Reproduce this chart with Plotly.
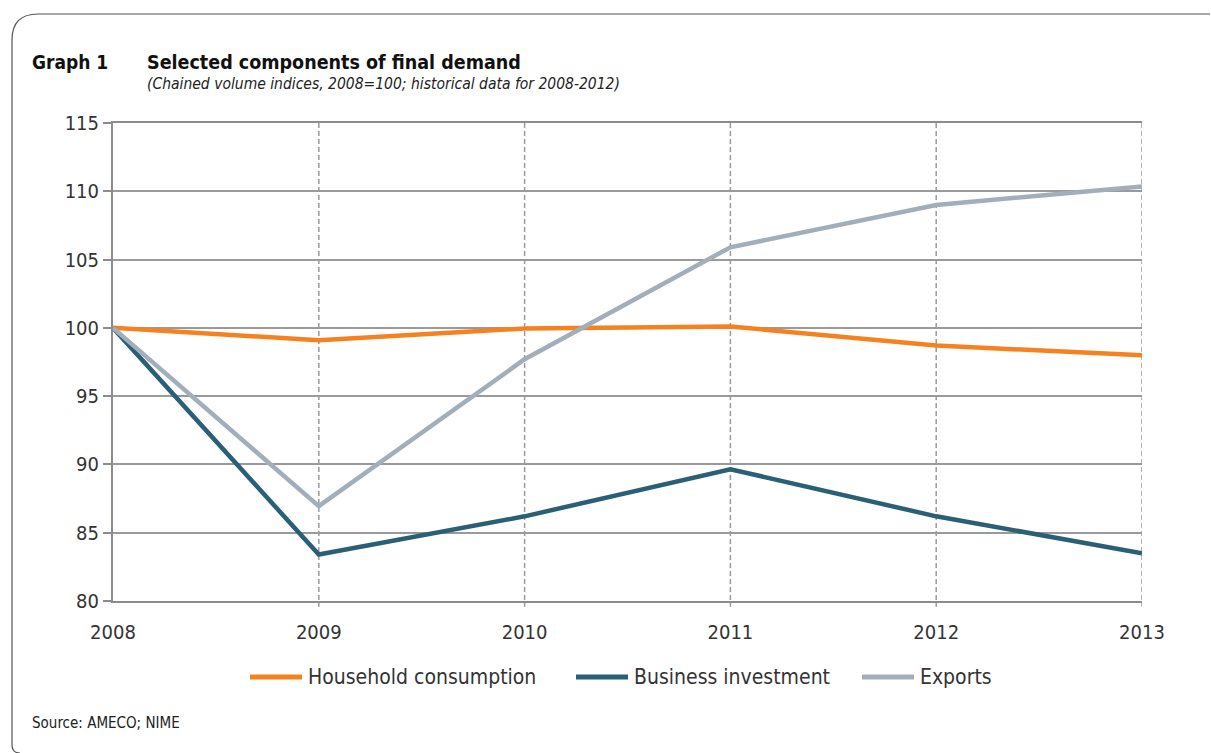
import plotly.graph_objects as go

# Chained volume indices, 2008=100
years = [2008, 2009, 2010, 2011, 2012, 2013]
household = [100.0, 99.1, 99.95, 100.1, 98.7, 98.0]
business = [100.0, 83.4, 86.2, 89.65, 86.2, 83.5]
exports = [100.0, 86.95, 97.7, 105.9, 109.0, 110.35]

series_names = ["Household consumption", "Business investment", "Exports"]
series_values = [household, business, exports]
series_colors = ["#F5821F", "#2B5F75", "#A3AEBB"]

y_ticks = [80, 85, 90, 95, 100, 105, 110, 115]

FONT = "Liberation Sans Narrow, DejaVu Sans Condensed, Arial Narrow, sans-serif"

W, H = 1211, 753
L, R, T, B = 113, 69, 123, 152
PW, PH = W - L - R, H - T - B


def px(x):
    return (x - L) / PW


def py(y):
    return (H - B - y) / PH


fig = go.Figure()
for name, vals, col in zip(series_names, series_values, series_colors):
    fig.add_trace(go.Scatter(
        x=years, y=vals, mode="lines", name=name,
        line=dict(color=col, width=4.5), showlegend=False,
    ))

shapes = []
# vertical dashed year lines
for yr in years[1:]:
    shapes.append(dict(type="line", xref="x", yref="paper", x0=yr, x1=yr,
                       y0=1, y1=-0.012,
                       line=dict(color="#9A9A9A", width=1.5, dash="5px,3px"),
                       layer="below"))

# outer rounded frame
x0, y0, x1, y1, r = 12, 14, 1210, 753, 26
path = (f"M {px(x1)},{py(y0)} L {px(x0 + r)},{py(y0)} "
        f"Q {px(x0)},{py(y0)} {px(x0)},{py(y0 + r)} "
        f"L {px(x0)},{py(y1 - 8)} Q {px(x0)},{py(y1)} {px(x0 + 8)},{py(y1)}")
shapes.append(dict(type="path", xref="paper", yref="paper", path=path,
                   line=dict(color="#555555", width=1.2)))

annotations = [
    dict(text="<b>Graph 1</b>", x=px(30), y=py(62), xref="paper", yref="paper",
         xanchor="left", yanchor="middle", showarrow=False,
         font=dict(family=FONT, size=19, color="#111111")),
    dict(text="<b>Selected components of final demand</b>", x=px(145), y=py(62),
         xref="paper", yref="paper", xanchor="left", yanchor="middle", showarrow=False,
         font=dict(family=FONT, size=19.5, color="#111111")),
    dict(text="<i>(Chained volume indices, 2008=100; historical data for 2008-2012)</i>",
         x=px(145), y=py(84), xref="paper", yref="paper", xanchor="left",
         yanchor="middle", showarrow=False,
         font=dict(family=FONT, size=15.5, color="#222222")),
    dict(text="Source: AMECO; NIME", x=px(30), y=py(723), xref="paper", yref="paper",
         xanchor="left", yanchor="middle", showarrow=False,
         font=dict(family=FONT, size=15, color="#222222")),
]

# legend drawn as line samples with labels
legend_x = [250, 576, 862]
for lx, name, col in zip(legend_x, series_names, series_colors):
    shapes.append(dict(type="line", xref="paper", yref="paper",
                       x0=px(lx), x1=px(lx + 52), y0=py(677), y1=py(677),
                       line=dict(color=col, width=5)))
    annotations.append(dict(text=name, x=px(lx + 56), y=py(677), xref="paper",
                            yref="paper", xanchor="left", yanchor="middle",
                            showarrow=False,
                            font=dict(family=FONT, size=21, color="#333333")))

fig.update_layout(
    width=W, height=H,
    margin=dict(l=L, r=R, t=T, b=B, pad=0),
    paper_bgcolor="white", plot_bgcolor="white",
    shapes=shapes, annotations=annotations,
    xaxis=dict(range=[2008, 2013], tickvals=years, ticktext=[str(y) for y in years],
               showgrid=False, zeroline=False, showline=True, mirror=True,
               linecolor="#8C8C8C", linewidth=2,
               ticks="", tickfont=dict(family=FONT, size=20, color="#333333"),
               ticklabelstandoff=12),
    yaxis=dict(range=[80, 115], tickvals=y_ticks, showgrid=True,
               gridcolor="#9A9A9A", gridwidth=1.5, zeroline=False,
               showline=True, linecolor="#8C8C8C", linewidth=2,
               ticks="outside", ticklen=8, tickcolor="#8C8C8C", tickwidth=1.5,
               tickfont=dict(family=FONT, size=20, color="#333333")),
)

fig.write_html("out.html")
